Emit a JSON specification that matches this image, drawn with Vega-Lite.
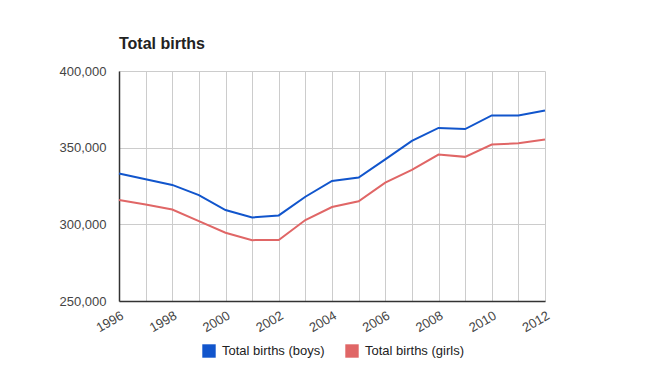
{
  "$schema": "https://vega.github.io/schema/vega-lite/v6.json",
  "width": 426,
  "height": 230,
  "autosize": {"type": "none"},
  "padding": {"left": 119, "top": 71, "right": 120, "bottom": 72},
  "background": "white",
  "config": {
    "font": "Liberation Sans",
    "view": {"stroke": null},
    "title": {"font": "Liberation Sans", "fontSize": 16, "fontWeight": "bold", "color": "#222", "anchor": "start", "frame": "group", "offset": 13}
  },
  "title": "Total births",
  "data": {"values": [
    {"year": 1996, "series": "Total births (boys)", "births": 333100},
    {"year": 1997, "series": "Total births (boys)", "births": 329400},
    {"year": 1998, "series": "Total births (boys)", "births": 325700},
    {"year": 1999, "series": "Total births (boys)", "births": 319100},
    {"year": 2000, "series": "Total births (boys)", "births": 309300},
    {"year": 2001, "series": "Total births (boys)", "births": 304500},
    {"year": 2002, "series": "Total births (boys)", "births": 305800},
    {"year": 2003, "series": "Total births (boys)", "births": 318000},
    {"year": 2004, "series": "Total births (boys)", "births": 328300},
    {"year": 2005, "series": "Total births (boys)", "births": 330500},
    {"year": 2006, "series": "Total births (boys)", "births": 342400},
    {"year": 2007, "series": "Total births (boys)", "births": 354400},
    {"year": 2008, "series": "Total births (boys)", "births": 362900},
    {"year": 2009, "series": "Total births (boys)", "births": 362100},
    {"year": 2010, "series": "Total births (boys)", "births": 371000},
    {"year": 2011, "series": "Total births (boys)", "births": 371000},
    {"year": 2012, "series": "Total births (boys)", "births": 374300},
    {"year": 1996, "series": "Total births (girls)", "births": 315800},
    {"year": 1997, "series": "Total births (girls)", "births": 313000},
    {"year": 1998, "series": "Total births (girls)", "births": 309700},
    {"year": 1999, "series": "Total births (girls)", "births": 302100},
    {"year": 2000, "series": "Total births (girls)", "births": 294500},
    {"year": 2001, "series": "Total births (girls)", "births": 289700},
    {"year": 2002, "series": "Total births (girls)", "births": 289800},
    {"year": 2003, "series": "Total births (girls)", "births": 302800},
    {"year": 2004, "series": "Total births (girls)", "births": 311300},
    {"year": 2005, "series": "Total births (girls)", "births": 315000},
    {"year": 2006, "series": "Total births (girls)", "births": 327200},
    {"year": 2007, "series": "Total births (girls)", "births": 335500},
    {"year": 2008, "series": "Total births (girls)", "births": 345500},
    {"year": 2009, "series": "Total births (girls)", "births": 344000},
    {"year": 2010, "series": "Total births (girls)", "births": 352000},
    {"year": 2011, "series": "Total births (girls)", "births": 352900},
    {"year": 2012, "series": "Total births (girls)", "births": 355300}
  ]},
  "mark": {"type": "line", "strokeWidth": 2},
  "encoding": {
    "x": {
      "field": "year", "type": "quantitative",
      "scale": {"domain": [1996, 2012], "nice": false, "zero": false},
      "axis": {
        "title": null,
        "values": [1996,1997,1998,1999,2000,2001,2002,2003,2004,2005,2006,2007,2008,2009,2010,2011,2012],
        "labelExpr": "datum.value % 2 == 0 ? '' + datum.value : ''",
        "labelAngle": -30, "labelAlign": "right", "labelBaseline": "top",
        "labelFont": "Liberation Sans", "labelFontSize": 13, "labelColor": "#444",
        "labelPadding": 8, "labelOverlap": false, "labelFlush": false, "labelBound": false,
        "ticks": false,
        "grid": true, "gridColor": "#ccc", "gridWidth": 1,
        "domainColor": "#333", "domainWidth": 1.5
      }
    },
    "y": {
      "field": "births", "type": "quantitative",
      "scale": {"domain": [250000, 400000], "nice": false, "zero": false},
      "axis": {
        "title": null,
        "values": [250000, 300000, 350000, 400000],
        "format": ",d",
        "labelFont": "Liberation Sans", "labelFontSize": 13, "labelColor": "#444",
        "labelPadding": 13,
        "ticks": false,
        "grid": true, "gridColor": "#ccc", "gridWidth": 1,
        "domainColor": "#333", "domainWidth": 1.5
      }
    },
    "color": {
      "field": "series", "type": "nominal",
      "scale": {"domain": ["Total births (boys)", "Total births (girls)"], "range": ["#1155cc", "#e06666"]},
      "legend": {
        "title": null, "orient": "none", "direction": "horizontal",
        "legendX": 83, "legendY": 273,
        "symbolType": "square", "symbolSize": 180, "symbolOpacity": 1,
        "labelFont": "Liberation Sans", "labelFontSize": 13, "labelColor": "#222",
        "columnPadding": 20, "labelOffset": 6,
        "encode": {"symbols": {"update": {"fill": {"scale": "color", "field": "value"}, "stroke": {"scale": "color", "field": "value"}, "strokeWidth": {"value": 0}}}}
      }
    }
  }
}
